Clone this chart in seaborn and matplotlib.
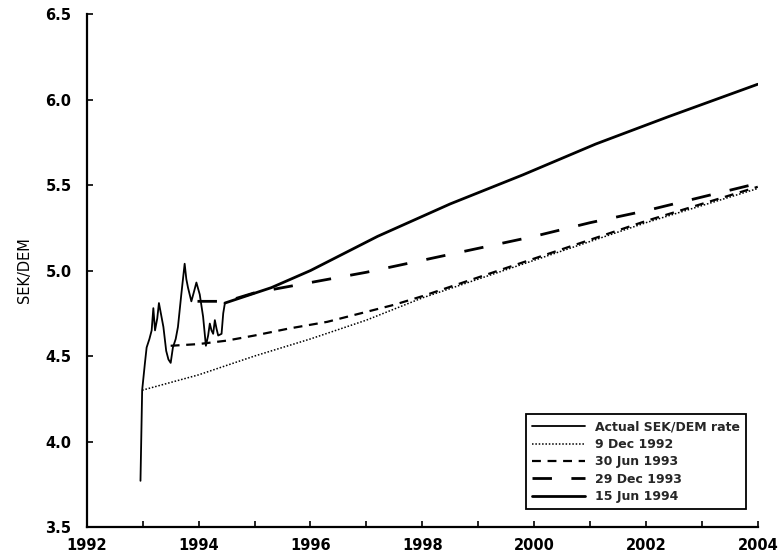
import matplotlib
matplotlib.use("Agg")
import matplotlib.pyplot as plt
import seaborn as sns
import numpy as np
import pandas as pd

# Actual SEK/DEM rate after the float (Nov 1992 - Jun 1994)
actual_t = [1992.96, 1992.99, 1993.04, 1993.07, 1993.12, 1993.16, 1993.19,
            1993.22, 1993.26, 1993.29, 1993.33, 1993.37, 1993.42, 1993.46, 1993.50,
            1993.54, 1993.59, 1993.63, 1993.69, 1993.72, 1993.75, 1993.78, 1993.81,
            1993.87, 1993.92, 1993.96, 1994.02, 1994.08, 1994.13, 1994.17, 1994.20,
            1994.23, 1994.26, 1994.29, 1994.32, 1994.35, 1994.41, 1994.44, 1994.47]
actual_v = [3.77, 4.30, 4.46, 4.55, 4.60, 4.65, 4.78,
            4.65, 4.72, 4.81, 4.74, 4.67, 4.53, 4.48, 4.46,
            4.55, 4.60, 4.67, 4.86, 4.95, 5.04, 4.95, 4.90,
            4.82, 4.88, 4.93, 4.86, 4.73, 4.56, 4.62, 4.69,
            4.65, 4.63, 4.71, 4.66, 4.62, 4.63, 4.75, 4.81]

# Forward-rate forecasts made on different dates
dec92_t = [1992.99, 1994.0, 1995.0, 1996.0, 1997.0, 1998.0, 1999.0, 2000.0, 2001.0, 2002.0, 2003.0, 2004.0]
dec92_v = [4.30, 4.39, 4.50, 4.60, 4.71, 4.84, 4.95, 5.06, 5.17, 5.28, 5.38, 5.48]

jun93_t = [1993.50, 1994.0, 1994.5, 1995.0, 1995.6, 1996.3, 1996.9, 1997.5, 1998.0, 1999.0, 2000.0, 2001.0, 2002.0, 2003.0, 2004.0]
jun93_v = [4.56, 4.57, 4.59, 4.62, 4.66, 4.70, 4.75, 4.80, 4.85, 4.96, 5.07, 5.18, 5.29, 5.39, 5.49]

dec93_t = [1993.98, 1994.5, 1995.0, 1995.5, 1996.0, 1997.0, 1998.0, 1999.0, 2000.0, 2001.0, 2002.0, 2003.0, 2004.0]
dec93_v = [4.82, 4.82, 4.87, 4.90, 4.93, 4.99, 5.06, 5.13, 5.20, 5.28, 5.35, 5.43, 5.51]

jun94_t = [1994.47, 1995.3, 1996.0, 1997.2, 1998.5, 1999.8, 2001.1, 2002.4, 2004.0]
jun94_v = [4.81, 4.90, 5.00, 5.20, 5.39, 5.56, 5.74, 5.90, 6.09]

sns.set_style("ticks")
plt.rcParams['font.family'] = ['DejaVu Sans']
plt.rcParams['font.weight'] = 'bold'

fig = plt.figure(figsize=(7.82, 5.55), dpi=100)
ax = fig.add_axes([0.111, 0.0505, 0.858, 0.924])

sns.lineplot(x=actual_t, y=actual_v, ax=ax, color='black', lw=1.3,
             label='Actual SEK/DEM rate', sort=False)
sns.lineplot(x=dec92_t, y=dec92_v, ax=ax, color='black', lw=1.1,
             linestyle=(0, (1, 1.2)), label='9 Dec 1992')
sns.lineplot(x=jun93_t, y=jun93_v, ax=ax, color='black', lw=1.6,
             linestyle=(0, (4, 3)), label='30 Jun 1993')
sns.lineplot(x=dec93_t, y=dec93_v, ax=ax, color='black', lw=2.0,
             linestyle=(0, (7, 7)), label='29 Dec 1993')
sns.lineplot(x=jun94_t, y=jun94_v, ax=ax, color='black', lw=2.0,
             label='15 Jun 1994')

ax.set_xlim(1992, 2004)
ax.set_ylim(3.5, 6.5)
ax.set_xticks(np.arange(1992, 2005, 2))
ax.set_xticks(np.arange(1992, 2005, 1), minor=True)
ax.set_yticks(np.arange(3.5, 6.51, 0.5))
ax.set_yticklabels([f"{v:.1f}" for v in np.arange(3.5, 6.51, 0.5)])
ax.tick_params(axis='both', which='both', direction='in', length=4, width=1.2,
               labelsize=10.5, colors='black')
ax.tick_params(axis='x', pad=8)
ax.tick_params(axis='y', pad=11)
sns.despine(ax=ax)
for s in ['left', 'bottom']:
    ax.spines[s].set_linewidth(1.6)
    ax.spines[s].set_color('black')

ax.set_xlabel('')
ax.set_ylabel('SEK/DEM', fontsize=10.5, labelpad=10, color='black')

leg = ax.legend(loc='lower right', bbox_to_anchor=(0.992, 0.022), fontsize=9,
                frameon=True, fancybox=False, edgecolor='black', framealpha=1,
                handlelength=4.2, borderpad=0.5, labelspacing=0.35)
leg.get_frame().set_linewidth(1.3)

fig.savefig("out.png", dpi=100)
